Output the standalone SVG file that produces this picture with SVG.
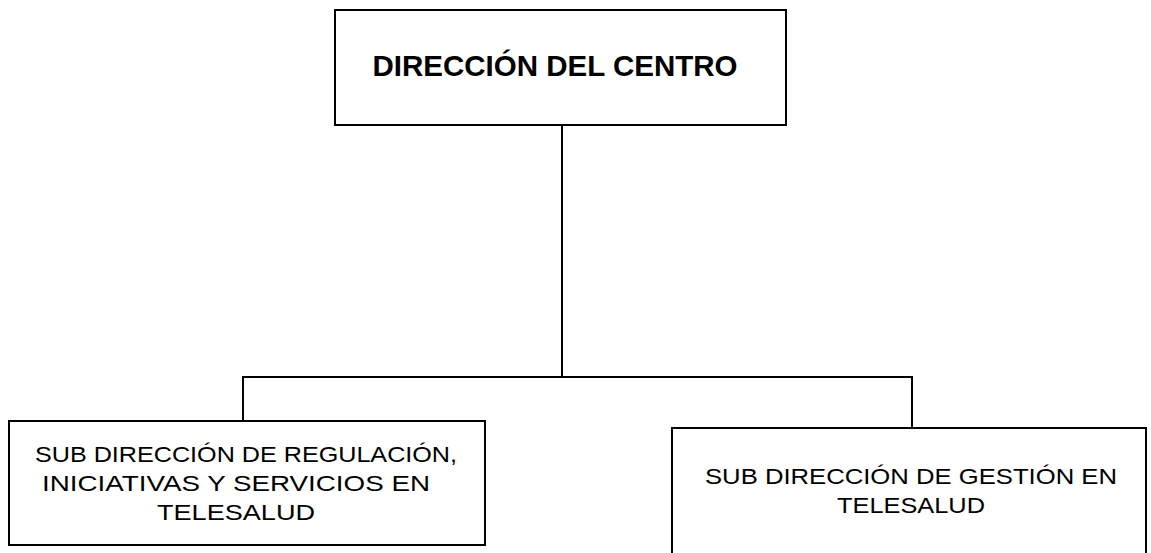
<svg xmlns="http://www.w3.org/2000/svg" width="1151" height="553" viewBox="0 0 1151 553">
  <style>
    .box { fill: #ffffff; stroke: #000000; stroke-width: 2; }
    .conn { fill: none; stroke: #000000; stroke-width: 2; }
    .title { font-family: "Liberation Sans", Arial, sans-serif; font-weight: bold; font-size: 29.5px; fill: #000000; }
    .lbl { font-family: "Liberation Sans", Arial, sans-serif; font-size: 21.5px; fill: #000000; }
  </style>
  <rect width="1151" height="553" fill="#ffffff"/>
  <g id="connectors">
    <line class="conn" x1="562" y1="125" x2="562" y2="377"/>
    <polyline class="conn" points="243,421 243,377 912,377 912,428"/>
  </g>
  <g id="node-direccion">
    <rect class="box" x="335" y="10" width="451" height="115"/>
    <text class="title" x="555" y="76" text-anchor="middle" textLength="365" lengthAdjust="spacingAndGlyphs">DIRECCIÓN DEL CENTRO</text>
  </g>
  <g id="node-regulacion">
    <rect class="box" x="9" y="421" width="476" height="124"/>
    <text class="lbl" x="246" y="462" text-anchor="middle" textLength="422" lengthAdjust="spacingAndGlyphs">SUB DIRECCIÓN DE REGULACIÓN,</text>
    <text class="lbl" x="236" y="491" text-anchor="middle" textLength="388" lengthAdjust="spacingAndGlyphs">INICIATIVAS Y SERVICIOS EN</text>
    <text class="lbl" x="236" y="520" text-anchor="middle" textLength="158" lengthAdjust="spacingAndGlyphs">TELESALUD</text>
  </g>
  <g id="node-gestion">
    <rect class="box" x="672" y="428" width="474" height="130"/>
    <text class="lbl" x="911" y="484" text-anchor="middle" textLength="412" lengthAdjust="spacingAndGlyphs">SUB DIRECCIÓN DE GESTIÓN EN</text>
    <text class="lbl" x="911" y="513" text-anchor="middle" textLength="148" lengthAdjust="spacingAndGlyphs">TELESALUD</text>
  </g>
</svg>
